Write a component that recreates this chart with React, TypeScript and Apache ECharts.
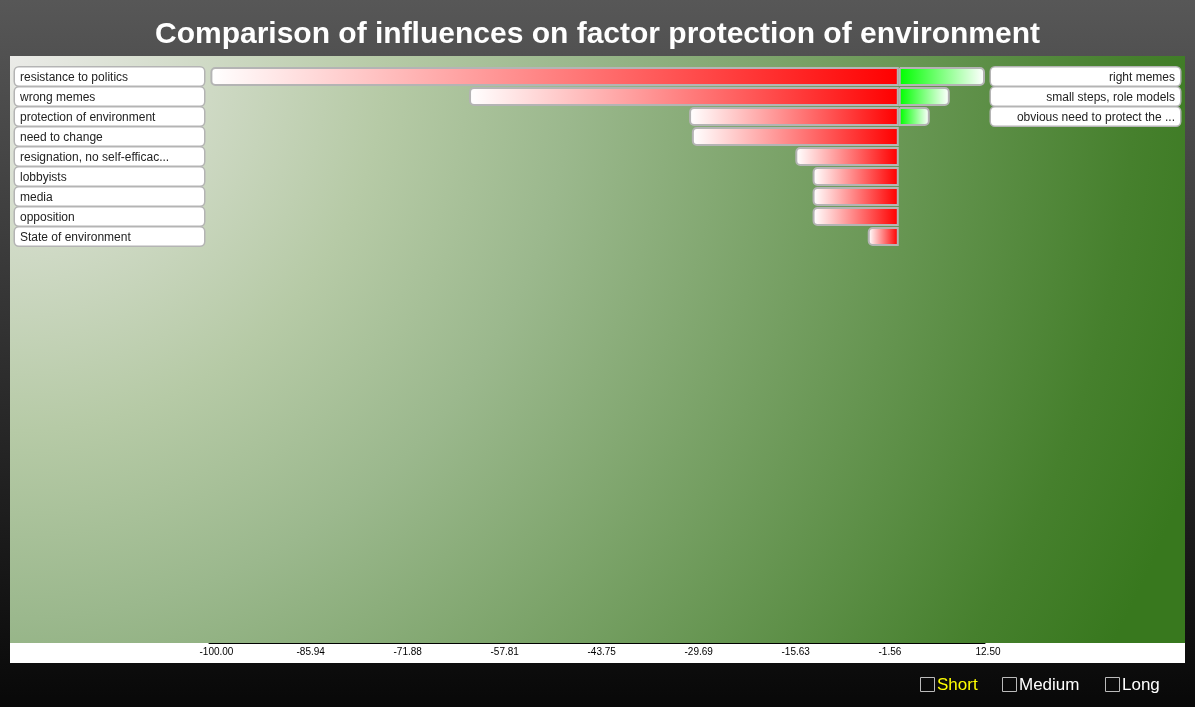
import React, { useEffect, useRef } from "react";
import * as echarts from "echarts";

// ---- data ----
const titleText = "Comparison of influences on factor protection of environment";
const negativeLabels = [
  "resistance to politics",
  "wrong memes",
  "protection of environment",
  "need to change",
  "resignation, no self-efficac...",
  "lobbyists",
  "media",
  "opposition",
  "State of environment",
];
const negativeValues = [-99.8, -62.3, -30.4, -30.0, -15.0, -12.5, -12.5, -12.5, -4.5];
const positiveLabels = ["right memes", "small steps, role models", "obvious need to protect the ..."];
const positiveValues = [12.5, 7.4, 4.5];
const axisMin = -100;
const axisMax = 12.5;
const tickSteps = 8;
const legendItems = ["Short", "Medium", "Long"];
const legendActive = "Short";

const FONT = "'Liberation Sans', Arial, Helvetica, sans-serif";

export default function App() {
  const ref = useRef<HTMLDivElement>(null);

  useEffect(() => {
    if (!ref.current) return;
    const chart = echarts.init(ref.current, null, { renderer: "svg" });

    const boxLabel = {
      fontSize: 12,
      fontFamily: FONT,
      color: "#222",
      backgroundColor: "#fff",
      borderColor: "#b4b4b4",
      borderWidth: 1.5,
      borderRadius: 4,
      width: 179,
      lineHeight: 14,
      padding: [2, 5, 2, 5],
    };

    const positiveData = negativeLabels.map((_, i) =>
      i < positiveValues.length ? positiveValues[i] : "-"
    );
    const rightAxisData = negativeLabels.map((_, i) =>
      i < positiveLabels.length
        ? { value: positiveLabels[i] }
        : { value: "", textStyle: { backgroundColor: "transparent", borderWidth: 0 } }
    );

    const legendX = [920, 1002, 1105];
    const legendGraphics: any[] = [];
    legendItems.forEach((name, i) => {
      legendGraphics.push({
        type: "rect",
        shape: { x: legendX[i] + 0.5, y: 677.5, width: 14, height: 14 },
        style: { fill: "transparent", stroke: "#bbbbbb", lineWidth: 1 },
      });
      legendGraphics.push({
        type: "text",
        x: legendX[i] + 17,
        y: 684.5,
        style: {
          text: name,
          fill: name === legendActive ? "#ffff00" : "#ffffff",
          font: `17px ${FONT}`,
          verticalAlign: "middle",
        },
      });
    });

    const option: any = {
      animation: false,
      backgroundColor: "transparent",
      title: {
        text: titleText,
        left: "center",
        top: 17,
        padding: 0,
        textStyle: { color: "#fff", fontSize: 30, fontWeight: "bold", fontFamily: FONT },
      },
      graphic: {
        elements: [
          {
            type: "rect",
            z: -20,
            shape: { x: 0, y: 0, width: 1195, height: 707 },
            style: {
              fill: new echarts.graphic.LinearGradient(0, 0, 0, 1, [
                { offset: 0, color: "#575757" },
                { offset: 1, color: "#080808" },
              ]),
            },
          },
          {
            type: "rect",
            z: -15,
            shape: { x: 10, y: 56, width: 1175, height: 587 },
            style: {
              fill: new echarts.graphic.RadialGradient(
                10,
                56,
                1250,
                [
                  { offset: 0, color: "#ebebe8" },
                  { offset: 0.3, color: "#b6caa6" },
                  { offset: 0.45, color: "#9bb88d" },
                  { offset: 0.9, color: "#46802d" },
                  { offset: 1, color: "#38781e" },
                ],
                true
              ),
            },
          },
          {
            type: "rect",
            z: -15,
            shape: { x: 10, y: 643, width: 1175, height: 20 },
            style: { fill: "#ffffff" },
          },
          ...legendGraphics,
        ],
      },
      grid: {
        left: 209,
        width: 776,
        top: 66.5,
        height: 180,
        containLabel: false,
        outerBoundsMode: "none",
      },
      xAxis: {
        type: "value",
        min: axisMin,
        max: axisMax,
        interval: (axisMax - axisMin) / tickSteps,
        offset: 396.5,
        axisLine: { show: true, lineStyle: { color: "#000", width: 1 } },
        axisTick: { show: false },
        splitLine: { show: false },
        axisLabel: {
          margin: 3,
          showMinLabel: true,
          showMaxLabel: true,
          align: "center",
          width: 19,
          formatter: (v: number) => `{a|${v.toFixed(2)}}`,
          rich: { a: { fontSize: 10, color: "#000", fontFamily: FONT, align: "left" } },
        },
      },
      yAxis: [
        {
          type: "category",
          inverse: true,
          data: negativeLabels,
          axisLine: { show: false },
          axisTick: { show: false },
          splitLine: { show: false },
          axisLabel: { ...boxLabel, align: "left", margin: 194, interval: 0 },
        },
        {
          type: "category",
          inverse: true,
          position: "right",
          data: rightAxisData,
          axisLine: { show: false },
          axisTick: { show: false },
          splitLine: { show: false },
          axisLabel: { ...boxLabel, align: "right", margin: 195, interval: 0 },
        },
      ],
      series: [
        {
          type: "bar",
          data: negativeValues,
          barWidth: 19,
          itemStyle: {
            color: new echarts.graphic.LinearGradient(0, 0, 1, 0, [
              { offset: 0, color: "#ffffff" },
              { offset: 1, color: "#ff0000" },
            ]),
            borderColor: "#b4b4b4",
            borderWidth: 2,
            borderRadius: [4, 0, 0, 4],
          },
        },
        {
          type: "bar",
          data: positiveData,
          barWidth: 19,
          barGap: "-100%",
          itemStyle: {
            color: new echarts.graphic.LinearGradient(0, 0, 1, 0, [
              { offset: 0, color: "#00ff00" },
              { offset: 1, color: "#ffffff" },
            ]),
            borderColor: "#b4b4b4",
            borderWidth: 2,
            borderRadius: [0, 4, 4, 0],
          },
        },
      ],
    };

    chart.setOption(option);
    return () => chart.dispose();
  }, []);

  return (
    <div
      ref={ref}
      style={{ position: "fixed", left: 0, top: 0, width: 1195, height: 707 }}
    />
  );
}
